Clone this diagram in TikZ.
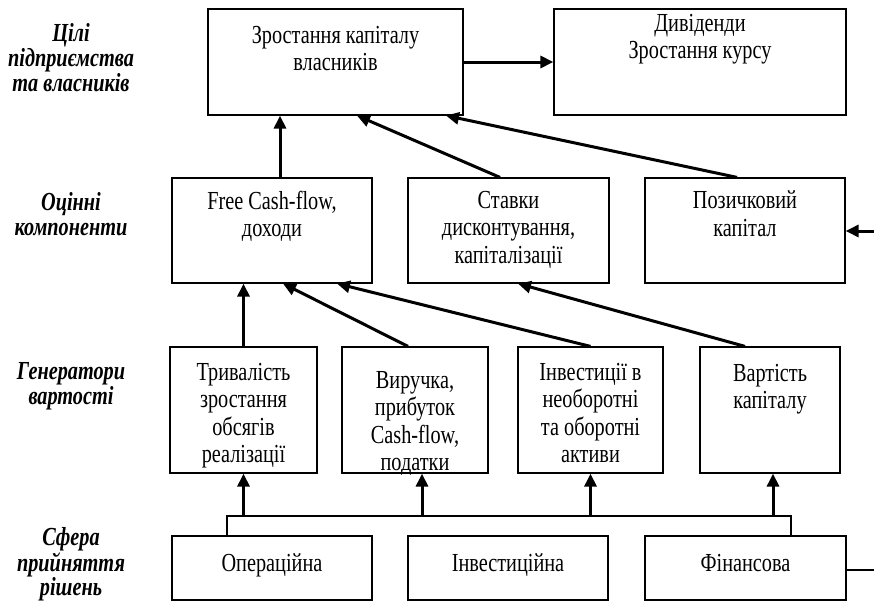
\documentclass[tikz,border=0pt]{standalone}
\usepackage{fontspec}
\setmainfont[FakeStretch=0.78]{Liberation Serif}
\usetikzlibrary{arrows.meta,calc}
\begin{document}
\begin{tikzpicture}[x=1pt,y=-1pt,
  box/.style={draw, line width=1.2pt, inner sep=0pt},
  txt/.style={font=\fontsize{26}{27.5}\selectfont, align=center, anchor=north, inner sep=0pt},
  lev/.style={font=\fontsize{26}{25}\selectfont\bfseries\itshape, align=center, anchor=north, inner sep=0pt},
  arr/.style={line width=3pt, -{Triangle[length=13pt,width=12pt]}},
  thin/.style={line width=1.2pt}]
\useasboundingbox (0,0) rectangle (874,602);

% level captions
\node[lev] (l1) at (71,23.7) {Цілі\\підприємства\\та власників};
\node[lev] (l2) at (71,192.7) {Оцінні\\компоненти};
\node[lev] (l3) at (71,362.7) {Генератори\\вартості};
\node[lev, font=\fontsize{26}{23.5}\selectfont\bfseries\itshape] (l4) at (71,527.5) {Сфера\\прийняття\\рішень};

% goals
\node[box, minimum width=255pt, minimum height=106pt] (goal) at (335.5,62) {};
\node[box, minimum width=292pt, minimum height=106pt] (div) at (700,62) {};
\node[txt] (goalT) at (335.5,25.9) {Зростання капіталу\\власників};
\node[txt] (divT) at (700,13.9) {Дивіденди\\Зростання курсу};

% valuation components
\node[box, minimum width=200pt, minimum height=105pt] (fcf) at (272,230.5) {};
\node[box, minimum width=201pt, minimum height=105pt] (rate) at (508.5,230.5) {};
\node[box, minimum width=200pt, minimum height=105pt] (debt) at (745,230.5) {};
\node[txt] (fcfT) at (272,190.9) {Free Cash-flow,\\доходи};
\node[txt] (rateT) at (508.5,190.9) {Ставки\\дисконтування,\\капіталізації};
\node[txt] (debtT) at (745,190.9) {Позичковий\\капітал};

% value generators
\node[box, minimum width=147pt, minimum height=126pt] (g1) at (243.5,410) {};
\node[box, minimum width=146pt, minimum height=126pt] (g2) at (415,410) {};
\node[box, minimum width=145pt, minimum height=126pt] (g3) at (590.5,410) {};
\node[box, minimum width=140pt, minimum height=126pt] (g4) at (770,410) {};
\node[txt] (g1T) at (243.5,362.9) {Тривалість\\зростання\\обсягів\\реалізації};
\node[txt] (g2T) at (415,370.9) {Виручка,\\прибуток\\Cash-flow,\\податки};
\node[txt] (g3T) at (590.5,362.9) {Інвестиції в\\необоротні\\та оборотні\\активи};
\node[txt] (g4T) at (770,363.9) {Вартість\\капіталу};

% decision areas
\node[box, minimum width=200pt, minimum height=64pt] (op) at (272,568) {};
\node[box, minimum width=200pt, minimum height=64pt] (inv) at (508,568) {};
\node[box, minimum width=201pt, minimum height=64pt] (fin) at (745.5,568) {};
\node[txt] (opT) at (272,553.9) {Операційна};
\node[txt] (invT) at (508,553.9) {Інвестиційна};
\node[txt] (finT) at (745.5,553.9) {Фінансова};

% connectors between the upper levels
\draw[arr] (goal.east) -- (div.west);
\draw[arr] ([xshift=8pt]fcf.north) -- ([xshift=8pt]fcf.north |- goal.south);
\draw[arr] ([xshift=-8.5pt]rate.north) -- ([xshift=21.5pt]goal.south);
\draw[arr] ([xshift=-8pt]debt.north) -- ([xshift=110.5pt]goal.south);

\draw[arr] (g1.north) -- (g1.north |- fcf.south);
\draw[arr] ([xshift=-7pt]g2.north) -- ([xshift=11pt]fcf.south);
\draw[arr] (g3.north) -- ([xshift=65pt]fcf.south);
\draw[arr] ([xshift=-25pt]g4.north) -- ([xshift=9.5pt]rate.south);

\coordinate (inR) at (874,231);
\draw[arr] (inR) -- (debt.east |- inR);

% bus from the decision areas
\coordinate (busL) at (227,516);
\coordinate (busR) at (791,516);
\draw[thin] (op.north -| busL) -- (busL) -- (busR) -- (fin.north -| busR);
\draw[arr] (g1.south |- busL) -- (g1.south);
\draw[arr] ([xshift=7pt]g2.south |- busL) -- ([xshift=7pt]g2.south);
\draw[arr] (g3.south |- busL) -- (g3.south);
\draw[arr] ([xshift=3pt]g4.south |- busL) -- ([xshift=3pt]g4.south);

\coordinate (outR) at (874,570);
\draw[thin] (fin.east |- outR) -- (outR);
\end{tikzpicture}
\end{document}
